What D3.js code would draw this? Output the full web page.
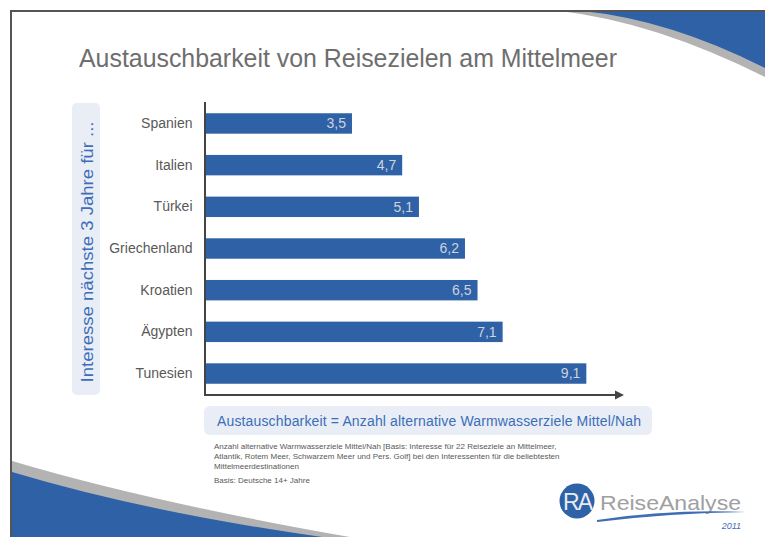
<!DOCTYPE html>
<html>
<head>
<meta charset="utf-8">
<script src="https://cdn.jsdelivr.net/npm/d3@7"></script>
<style>
  html, body { margin: 0; padding: 0; background: #fff; }
  svg { display: block; font-family: "Liberation Sans", Arial, sans-serif; }
</style>
</head>
<body>
<div id="chart"></div>
<script>
// data
const categories = ["Spanien", "Italien", "Türkei", "Griechenland", "Kroatien", "Ägypten", "Tunesien"];
const values = [3.5, 4.7, 5.1, 6.2, 6.5, 7.1, 9.1];
const xDomain = [0, 10];

const title = "Austauschbarkeit von Reisezielen am Mittelmeer";
const yTitle = "Interesse nächste 3 Jahre für ...";
const xTitle = "Austauschbarkeit = Anzahl alternative Warmwasserziele Mittel/Nah";
const footnotes = [
  "Anzahl alternative Warmwasserziele Mittel/Nah [Basis: Interesse für 22 Reiseziele an Mittelmeer,",
  "Atlantik, Rotem Meer, Schwarzem Meer und Pers. Golf] bei den Interessenten für die beliebtesten",
  "Mittelmeerdestinationen"
];
const basis = "Basis: Deutsche  14+ Jahre";

const W = 765, H = 537;
const blue = "#2e61a6";
const labelBlue = "#3d6db7";
const boxFill = "#e8edf6";
const textGrey = "#595959";

const locale = d3.formatLocale({decimal: ",", thousands: ".", grouping: [3], currency: ["", " €"]});
const fmt = locale.format(".1f");

const svg = d3.select("#chart").append("svg")
    .attr("width", W)
    .attr("height", H);

// slide decoration: swooshes
svg.append("path")
    .attr("d", "M560,11 Q655,22 765,77 L765,11 Z")
    .attr("fill", "#b3b3b3");
svg.append("path")
    .attr("d", "M583,11 Q670,20 765,68 L765,11 Z")
    .attr("fill", blue);
svg.append("path")
    .attr("d", "M12,461 Q150,502 350,537 L12,537 Z")
    .attr("fill", "#b3b3b3");
svg.append("path")
    .attr("d", "M12,472 Q145,512 322,537 L12,537 Z")
    .attr("fill", blue);

// frame
svg.append("path")
    .attr("d", "M11,537 L11,11 L765,11")
    .attr("fill", "none")
    .attr("stroke", "#555")
    .attr("stroke-width", 2);

// title
svg.append("text")
    .attr("x", 79)
    .attr("y", 67)
    .attr("font-size", 25)
    .attr("fill", "#6e6e6e")
    .attr("textLength", 538)
    .attr("lengthAdjust", "spacingAndGlyphs")
    .text(title);

// scales
const x = d3.scaleLinear()
    .domain(xDomain)
    .range([205.5, 624]);

const y = d3.scaleBand()
    .domain(categories)
    .range([102, 395])
    .paddingInner(0.51)
    .paddingOuter(0.27);

// y title box
svg.append("rect")
    .attr("x", 72).attr("y", 103)
    .attr("width", 28).attr("height", 292)
    .attr("rx", 5)
    .attr("fill", boxFill);
svg.append("text")
    .attr("transform", "translate(92.5,252) rotate(-90)")
    .attr("text-anchor", "middle")
    .attr("font-size", 16)
    .attr("fill", labelBlue)
    .attr("textLength", 261)
    .attr("lengthAdjust", "spacingAndGlyphs")
    .text(yTitle);

// bars
const g = svg.append("g");
g.selectAll(".bar")
  .data(values)
  .enter().append("rect")
    .attr("class", "bar")
    .attr("x", x(0))
    .attr("y", (d, i) => y(categories[i]))
    .attr("width", d => x(d) - x(0))
    .attr("height", y.bandwidth())
    .attr("fill", blue);

g.selectAll(".val")
  .data(values)
  .enter().append("text")
    .attr("class", "val")
    .attr("x", d => x(d) - 6)
    .attr("y", (d, i) => y(categories[i]) + y.bandwidth() / 2)
    .attr("dy", "0.35em")
    .attr("text-anchor", "end")
    .attr("font-size", 14)
    .attr("fill", "#cdd3de")
    .text(d => fmt(d));

// category labels
const yAxis = svg.append("g")
    .attr("transform", "translate(" + (x(0) - 13) + ",0)")
    .call(d3.axisLeft(y).tickSize(0).tickPadding(0));
yAxis.select(".domain").remove();
yAxis.selectAll("text")
    .attr("font-size", 14)
    .attr("font-family", "Liberation Sans, Arial, sans-serif")
    .attr("fill", textGrey);

// axis lines with arrow
svg.append("path")
    .attr("d", "M" + (x(0) - 0.5) + ",102 L" + (x(0) - 0.5) + ",395 L" + (x(10) - 7) + ",395")
    .attr("fill", "none")
    .attr("stroke", "#444")
    .attr("stroke-width", 2);
svg.append("path")
    .attr("d", "M" + (x(10) - 9) + ",390.5 L" + x(10) + ",395 L" + (x(10) - 9) + ",399.5 Z")
    .attr("fill", "#444");

// x title box
svg.append("rect")
    .attr("x", 204).attr("y", 406)
    .attr("width", 448).attr("height", 29)
    .attr("rx", 6)
    .attr("fill", boxFill);
svg.append("text")
    .attr("x", 217)
    .attr("y", 426)
    .attr("font-size", 14)
    .attr("fill", labelBlue)
    .attr("textLength", 424)
    .attr("lengthAdjust", "spacing")
    .text(xTitle);

// footnotes
svg.selectAll(".fn")
  .data(footnotes)
  .enter().append("text")
    .attr("class", "fn")
    .attr("x", 214)
    .attr("y", (d, i) => 449 + i * 10)
    .attr("font-size", 8)
    .attr("fill", textGrey)
    .text(d => d);
svg.append("text")
    .attr("x", 214)
    .attr("y", 483)
    .attr("font-size", 8)
    .attr("fill", textGrey)
    .text(basis);

// logo
const logo = svg.append("g");
logo.append("circle")
    .attr("cx", 577).attr("cy", 501).attr("r", 17.5)
    .attr("fill", blue);
logo.append("text")
    .attr("x", 577).attr("y", 509.5)
    .attr("text-anchor", "middle")
    .attr("font-size", 23)
    .attr("letter-spacing", -2)
    .attr("fill", "#e6ebf3")
    .text("RA");
logo.append("text")
    .attr("x", 600).attr("y", 510)
    .attr("font-size", 21)
    .attr("fill", "#a0a0a0")
    .attr("textLength", 141)
    .attr("lengthAdjust", "spacingAndGlyphs")
    .text("ReiseAnalyse");
logo.append("path")
    .attr("d", "M597,520 Q670,509 746,512 Q670,513 597,522 Z")
    .attr("fill", labelBlue);
logo.append("text")
    .attr("x", 741).attr("y", 529)
    .attr("text-anchor", "end")
    .attr("font-size", 9)
    .attr("font-style", "italic")
    .attr("fill", labelBlue)
    .text("2011");
</script>
</body>
</html>
